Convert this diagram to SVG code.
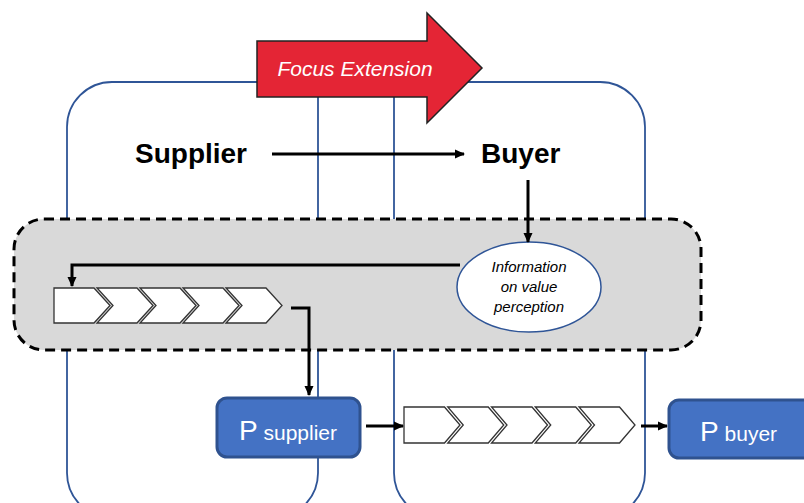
<svg xmlns="http://www.w3.org/2000/svg" width="804" height="503" viewBox="0 0 804 503">
<defs>
<style>
.cont{fill:none;stroke:#2f5597;stroke-width:1.8}
.conn{fill:none;stroke:#000;stroke-width:3}
.chev{fill:#fff;stroke:#333;stroke-width:1.3;stroke-linejoin:miter}
.box{fill:#4472c4;stroke:#2f528f;stroke-width:3}
.big{font-family:"Liberation Sans",Arial,sans-serif;font-weight:bold;font-size:28px;fill:#000}
.ital{font-family:"Liberation Sans",Arial,sans-serif;font-style:italic}
.btxt{font-family:"Liberation Sans",Arial,sans-serif;fill:#fff}
</style>
<marker id="ah" viewBox="0 0 10 10" refX="9" refY="5" markerWidth="10" markerHeight="10" markerUnits="userSpaceOnUse" orient="auto">
<path d="M0,0.5 L10,5 L0,9.5 z" fill="#000"/>
</marker>
</defs>
<g id="containers">
<path id="supplier-area" class="cont" d="M318,82 H112 A45,45 0 0 0 67,127 V473 A45,45 0 0 0 112,518 H273 A45,45 0 0 0 318,473 Z"/>
<path id="buyer-area" class="cont" d="M394,82 H600 A45,45 0 0 1 645,127 V473 A45,45 0 0 1 600,518 H439 A45,45 0 0 1 394,473 Z"/>
</g>
<g id="focus-extension">
<path d="M257,41 H427 V13 L482,68 L427,123 V97 H257 Z" fill="#e42535" stroke="#222" stroke-width="1.5"/>
<text class="ital" x="355" y="76" font-size="21" fill="#fff" text-anchor="middle">Focus Extension</text>
</g>
<g id="info-layer">
<rect x="14" y="219" width="687" height="131" rx="30" fill="#d9d9d9" stroke="#000" stroke-width="3" stroke-dasharray="10 6"/>
</g>
<g id="supplier-label"><text class="big" x="135" y="163">Supplier</text></g>
<g id="buyer-label"><text class="big" x="481" y="163">Buyer</text></g>
<g id="info-node">
<ellipse cx="529" cy="287" rx="72" ry="45" fill="#fff" stroke="#2f5597" stroke-width="1.5"/>
<text class="ital" font-size="15" fill="#000" text-anchor="middle"><tspan x="529" y="272">Information</tspan><tspan x="529" y="292">on value</tspan><tspan x="529" y="312">perception</tspan></text>
</g>
<g id="chain-supplier">
<path class="chev" d="M54,288 H94 L110,305.5 L94,323 H54 Z"/>
<path class="chev" d="M97,288 H137 L153,305.5 L137,323 H97 L113,305.5 Z"/>
<path class="chev" d="M140,288 H180 L196,305.5 L180,323 H140 L156,305.5 Z"/>
<path class="chev" d="M183,288 H223 L239,305.5 L223,323 H183 L199,305.5 Z"/>
<path class="chev" d="M226,288 H266 L282,305.5 L266,323 H226 L242,305.5 Z"/>
</g>
<g id="chain-value">
<path class="chev" d="M404,407 H444.5 L460,425 L444.5,443 H404 Z"/>
<path class="chev" d="M447.75,407 H488.25 L503.75,425 L488.25,443 H447.75 L463.25,425 Z"/>
<path class="chev" d="M491.5,407 H532 L547.5,425 L532,443 H491.5 L507,425 Z"/>
<path class="chev" d="M535.25,407 H575.75 L591.25,425 L575.75,443 H535.25 L550.75,425 Z"/>
<path class="chev" d="M579,407 H619.5 L635,425 L619.5,443 H579 L594.5,425 Z"/>
</g>
<g id="connectors">
<path class="conn" d="M272,154 H464" marker-end="url(#ah)"/>
<path class="conn" d="M528,180 V242" marker-end="url(#ah)"/>
<path class="conn" d="M460,265 H72 V286" marker-end="url(#ah)"/>
<path class="conn" d="M291,308 H309 V395" marker-end="url(#ah)"/>
<path class="conn" d="M366,426 H403" marker-end="url(#ah)"/>
<path class="conn" d="M641,426 H667" marker-end="url(#ah)"/>
</g>
<g id="p-supplier">
<rect class="box" x="217" y="398" width="143" height="59" rx="10"/>
<text class="btxt" x="288" y="440" text-anchor="middle"><tspan font-size="28">P</tspan><tspan font-size="21"> supplier</tspan></text>
</g>
<g id="p-buyer">
<rect class="box" x="669" y="400" width="150" height="58" rx="10"/>
<text class="btxt" x="700" y="441"><tspan font-size="28">P</tspan><tspan font-size="21"> buyer</tspan></text>
</g>
</svg>
